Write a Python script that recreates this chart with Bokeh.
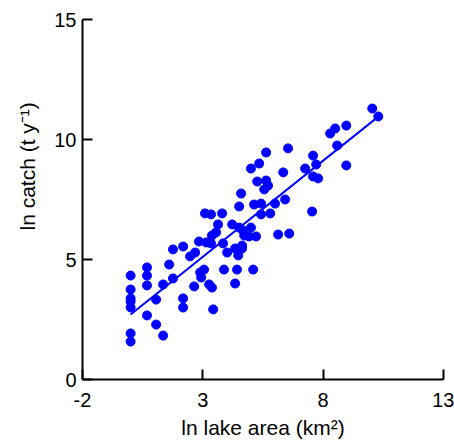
from bokeh.plotting import figure
from bokeh.models import Range1d, Title
from bokeh.embed import file_html
from bokeh.resources import INLINE

# ln lake area (km2) and ln catch (t/y)
lake_area = [0.0, 0.0, 0.0, 0.0, 0.0, 0.0, 0.0,
             0.68, 0.68, 0.68, 0.68, 1.06, 1.06, 1.35, 1.35, 1.6, 1.76, 1.76,
             2.18, 2.18, 2.18, 2.47, 2.68, 2.64, 2.84, 2.89, 2.93, 3.05, 3.09,
             3.34, 3.14, 3.34, 3.38, 3.55, 3.26, 3.38, 3.43, 3.8, 3.63, 3.84,
             3.88, 4.01, 4.22, 4.34, 4.34, 4.42, 4.47, 4.51, 4.51, 4.59, 4.67,
             4.63, 4.63, 4.72, 4.92, 5.0, 5.09, 5.21, 5.0, 5.13, 5.26, 5.34,
             5.42, 5.42, 5.55, 5.63, 5.63, 5.71, 5.8, 6.0, 6.13, 6.34, 6.42,
             6.54, 6.59, 7.25, 7.54, 7.58, 7.58, 7.71, 7.79, 8.29, 8.5, 8.58,
             8.96, 8.96, 10.04, 10.29]
catch = [4.33, 3.75, 3.38, 3.25, 3.0, 1.92, 1.58,
         4.67, 4.33, 3.92, 2.67, 3.33, 2.29, 1.83, 3.96, 4.79, 5.42, 4.21,
         5.54, 3.38, 3.0, 5.13, 5.29, 3.88, 5.75, 4.46, 4.25, 4.58, 6.92,
         6.88, 5.71, 5.67, 6.0, 6.13, 3.96, 3.83, 2.92, 6.92, 6.46, 5.67,
         4.58, 5.29, 6.46, 5.46, 4.0, 4.58, 5.17, 7.21, 6.33, 7.75, 6.21,
         5.58, 5.46, 6.0, 5.96, 6.33, 4.58, 5.96, 8.79, 7.29, 8.25, 9.0,
         7.33, 6.88, 7.92, 9.46, 8.29, 8.08, 6.92, 7.33, 6.04, 8.63, 7.5,
         9.63, 6.08, 8.79, 7.0, 9.33, 8.46, 8.96, 8.38, 10.25, 10.46, 9.75,
         10.58, 8.92, 11.29, 10.96]

# fitted regression line (end points)
fit_x = [0.0, 10.2]
fit_y = [2.71, 10.88]

x_ticks = [-2, 3, 8, 13]
y_ticks = [0, 5, 10, 15]
x_tick_labels = {-2: "-2", 3: "3", 8: "8", 13: "13"}
x_label = "ln lake area (km\u00b2)"
y_label = "ln catch (t y\u207b\u00b9)"

FONT = "Liberation Sans"
BLUE = "#0000ff"

p = figure(frame_width=361, frame_height=360,
           min_border_left=81, min_border_right=11,
           min_border_top=19, min_border_bottom=61,
           x_range=Range1d(-2, 13), y_range=Range1d(0, 15),
           output_backend="svg", toolbar_location=None)

p.outline_line_color = None
p.xgrid.visible = False
p.ygrid.visible = False
p.background_fill_color = "white"
p.border_fill_color = "white"

for ax, ticks in ((p.xaxis, x_ticks), (p.yaxis, y_ticks)):
    ax.ticker = ticks
    ax.major_tick_in = 10
    ax.major_tick_out = 0
    ax.minor_tick_line_color = None
    ax.axis_line_width = 2
    ax.major_tick_line_width = 2
    ax.axis_line_color = "black"
    ax.major_tick_line_color = "black"
    ax.major_label_text_font = FONT
    ax.major_label_text_font_size = "20px"
    ax.major_label_text_color = "black"

p.xaxis.major_label_overrides = x_tick_labels
p.xaxis.major_label_standoff = 13
p.yaxis.major_label_standoff = 6

p.xaxis.axis_label = x_label
p.xaxis.axis_label_text_font = FONT
p.xaxis.axis_label_text_font_size = "21px"
p.xaxis.axis_label_text_font_style = "normal"
p.xaxis.axis_label_text_color = "black"
p.xaxis.axis_label_standoff = 6

ytitle = Title(text=y_label, align="left", offset=149, standoff=26,
               text_font=FONT, text_font_size="21px",
               text_font_style="normal", text_color="black")
p.add_layout(ytitle, "left")

p.line(fit_x, fit_y, line_color=BLUE, line_width=2)
p.scatter(lake_area, catch, size=9, fill_color=BLUE, line_color=BLUE)

open("out.html", "w").write(file_html(p, INLINE))
